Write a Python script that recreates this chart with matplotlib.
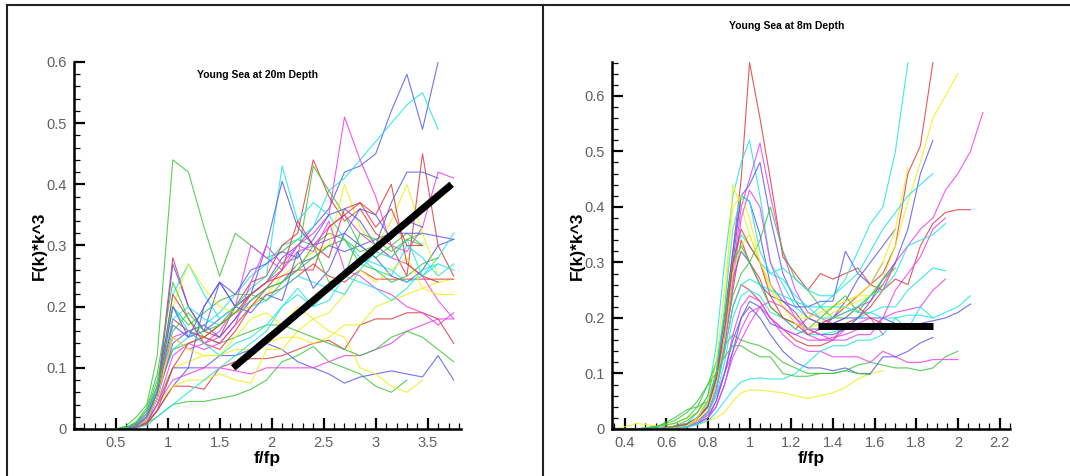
import matplotlib
matplotlib.use("Agg")
import matplotlib.pyplot as plt
from matplotlib.lines import Line2D
from matplotlib.ticker import MultipleLocator

plt.rcParams['font.family'] = ['Liberation Sans', 'DejaVu Sans']

# Tecplot-like colours
colors = {'r': '#e03c3c', 'g': '#3cc83c', 'b': '#5a5af0',
          'c': '#1ee6e6', 'y': '#f0f014', 'm': '#f03cf0'}

# ---------------- left panel: 20 m depth ----------------
x_left = [0.5, 0.6, 0.7, 0.8, 0.9, 1.05, 1.2, 1.35, 1.5, 1.65, 1.8, 1.95,
          2.1, 2.25, 2.4, 2.55, 2.7, 2.85, 3.0, 3.15, 3.3, 3.45, 3.6, 3.75]

left_colors = ['g', 'b', 'c', 'm', 'r', 'g', 'c', 'b', 'g', 'b', 'm', 'r', 'y', 'y', 'g',
               'r', 'm', 'b', 'c', 'y', 'r', 'b', 'g', 'm', 'c', 'y', 'r', 'c', 'b', 'g']
left_values = [
    [0, 0.005, 0.02, 0.04, 0.12, 0.44, 0.42, 0.33, 0.25, 0.32, 0.3, 0.28, 0.29, 0.31, 0.3, 0.32, 0.31, 0.29, 0.3, 0.28, 0.31, 0.3],
    [0, 0.002, 0.008, 0.025, 0.07, 0.17, 0.15, 0.16, 0.18, 0.2, 0.22, 0.24, 0.28, 0.3, 0.33, 0.36, 0.42, 0.43, 0.45, 0.52, 0.58, 0.49, 0.6],
    [0, 0.001, 0.005, 0.02, 0.06, 0.13, 0.15, 0.17, 0.19, 0.22, 0.25, 0.27, 0.3, 0.31, 0.33, 0.39, 0.41, 0.44, 0.47, 0.5, 0.53, 0.55, 0.49],
    [0, 0.002, 0.006, 0.02, 0.07, 0.15, 0.13, 0.14, 0.16, 0.2, 0.3, 0.28, 0.26, 0.3, 0.32, 0.35, 0.51, 0.44, 0.38, 0.3, 0.29, 0.33, 0.42, 0.41],
    [0, 0.001, 0.004, 0.015, 0.06, 0.28, 0.2, 0.16, 0.15, 0.2, 0.24, 0.25, 0.3, 0.32, 0.44, 0.38, 0.34, 0.36, 0.32, 0.3, 0.25, 0.45, 0.3, 0.25],
    [0, 0.002, 0.01, 0.03, 0.08, 0.2, 0.17, 0.19, 0.21, 0.22, 0.22, 0.24, 0.27, 0.28, 0.43, 0.39, 0.35, 0.3, 0.28, 0.3, 0.32, 0.3],
    [0, 0.001, 0.006, 0.02, 0.06, 0.22, 0.27, 0.22, 0.18, 0.2, 0.23, 0.25, 0.43, 0.34, 0.37, 0.35, 0.31, 0.28, 0.26, 0.25, 0.3, 0.28, 0.25, 0.27],
    [0, 0.001, 0.004, 0.015, 0.05, 0.27, 0.2, 0.16, 0.24, 0.2, 0.22, 0.3, 0.405, 0.33, 0.3, 0.31, 0.32, 0.3, 0.28, 0.25, 0.24, 0.26, 0.3, 0.31],
    [0, 0, 0.002, 0.01, 0.02, 0.04, 0.045, 0.045, 0.05, 0.055, 0.065, 0.08, 0.11, 0.12, 0.135, 0.11, 0.1, 0.09, 0.07, 0.06, 0.08],
    [0, 0, 0.003, 0.01, 0.03, 0.07, 0.1, 0.1, 0.12, 0.12, 0.13, 0.14, 0.13, 0.11, 0.1, 0.09, 0.075, 0.085, 0.09, 0.095, 0.09, 0.085, 0.12, 0.08],
    [0, 0.001, 0.004, 0.012, 0.04, 0.08, 0.09, 0.1, 0.1, 0.095, 0.09, 0.1, 0.1, 0.1, 0.1, 0.11, 0.12, 0.12, 0.13, 0.14, 0.16, 0.17, 0.18, 0.18],
    [0, 0, 0.002, 0.008, 0.03, 0.07, 0.07, 0.065, 0.1, 0.11, 0.115, 0.115, 0.12, 0.13, 0.14, 0.145, 0.13, 0.17, 0.18, 0.18, 0.19, 0.19, 0.18, 0.14],
    [0, 0, 0.002, 0.01, 0.04, 0.07, 0.08, 0.08, 0.09, 0.08, 0.075, 0.13, 0.13, 0.16, 0.18, 0.16, 0.15, 0.1, 0.09, 0.07, 0.06, 0.08],
    [0, 0.001, 0.005, 0.015, 0.05, 0.1, 0.11, 0.12, 0.12, 0.13, 0.13, 0.14, 0.15, 0.15, 0.14, 0.15, 0.17, 0.17, 0.2, 0.21, 0.22, 0.23, 0.24, 0.245],
    [0, 0.001, 0.006, 0.02, 0.06, 0.13, 0.14, 0.15, 0.14, 0.15, 0.16, 0.17, 0.17, 0.16, 0.15, 0.14, 0.13, 0.12, 0.13, 0.15, 0.16, 0.15, 0.13, 0.11],
    [0, 0.001, 0.004, 0.015, 0.05, 0.18, 0.16, 0.15, 0.14, 0.17, 0.2, 0.22, 0.23, 0.25, 0.27, 0.25, 0.24, 0.26, 0.245, 0.245, 0.245, 0.245, 0.245, 0.245],
    [0, 0.001, 0.005, 0.015, 0.05, 0.15, 0.16, 0.14, 0.15, 0.18, 0.22, 0.24, 0.26, 0.29, 0.3, 0.33, 0.35, 0.32, 0.3, 0.28, 0.27, 0.25, 0.21, 0.18],
    [0, 0.001, 0.004, 0.015, 0.05, 0.14, 0.16, 0.17, 0.15, 0.18, 0.21, 0.23, 0.24, 0.27, 0.28, 0.3, 0.29, 0.3, 0.31, 0.32, 0.32, 0.32, 0.315, 0.31],
    [0, 0.001, 0.005, 0.02, 0.07, 0.18, 0.2, 0.18, 0.17, 0.19, 0.2, 0.21, 0.23, 0.25, 0.24, 0.23, 0.26, 0.28, 0.27, 0.26, 0.24, 0.25, 0.28, 0.32],
    [0, 0.001, 0.005, 0.02, 0.06, 0.2, 0.27, 0.23, 0.2, 0.19, 0.2, 0.22, 0.25, 0.27, 0.29, 0.3, 0.4, 0.33, 0.3, 0.34, 0.4, 0.32, 0.25],
    [0, 0.001, 0.005, 0.02, 0.06, 0.22, 0.18, 0.14, 0.13, 0.16, 0.2, 0.23, 0.26, 0.34, 0.3, 0.28, 0.36, 0.37, 0.33, 0.36, 0.3, 0.3],
    [0, 0, 0.003, 0.01, 0.04, 0.1, 0.1, 0.2, 0.24, 0.22, 0.26, 0.27, 0.29, 0.28, 0.31, 0.35, 0.36, 0.34, 0.3, 0.37, 0.42, 0.42, 0.41],
    [0, 0.002, 0.012, 0.035, 0.09, 0.24, 0.18, 0.15, 0.17, 0.2, 0.22, 0.21, 0.24, 0.26, 0.28, 0.3, 0.31, 0.27, 0.26, 0.24, 0.25, 0.27, 0.28],
    [0, 0.001, 0.004, 0.015, 0.04, 0.12, 0.14, 0.13, 0.14, 0.17, 0.24, 0.3, 0.27, 0.3, 0.29, 0.34, 0.26, 0.25, 0.23, 0.22, 0.2, 0.19, 0.17, 0.19],
    [0, 0, 0.002, 0.006, 0.02, 0.04, 0.06, 0.08, 0.1, 0.12, 0.14, 0.16, 0.2, 0.23, 0.2, 0.21, 0.25, 0.24, 0.23, 0.21, 0.23, 0.26, 0.27, 0.26],
    [0, 0.001, 0.004, 0.015, 0.05, 0.15, 0.13, 0.12, 0.12, 0.15, 0.18, 0.19, 0.17, 0.2, 0.18, 0.19, 0.22, 0.26, 0.24, 0.26, 0.28, 0.23, 0.22, 0.22],
    [0, 0, 0.003, 0.01, 0.03, 0.1, 0.14, 0.15, 0.17, 0.19, 0.22, 0.24, 0.25, 0.26, 0.26, 0.33, 0.35, 0.37, 0.35, 0.4, 0.27, 0.25, 0.24],
    [0, 0.001, 0.005, 0.02, 0.06, 0.2, 0.16, 0.14, 0.12, 0.14, 0.15, 0.17, 0.2, 0.22, 0.2, 0.23, 0.22, 0.26, 0.29, 0.28, 0.31, 0.25, 0.27],
    [0, 0.001, 0.005, 0.02, 0.06, 0.2, 0.15, 0.2, 0.24, 0.2, 0.19, 0.22, 0.21, 0.29, 0.23, 0.26, 0.32, 0.36, 0.35, 0.31, 0.34, 0.33],
    [0, 0.002, 0.01, 0.03, 0.07, 0.16, 0.19, 0.16, 0.17, 0.19, 0.21, 0.23, 0.24, 0.26, 0.3, 0.24, 0.25, 0.32, 0.31, 0.29, 0.31, 0.32],
]
trend_left_x = [1.63, 3.73]
trend_left_y = [0.10, 0.40]

# ---------------- right panel: 8 m depth ----------------
x_right = [0.36, 0.46, 0.56, 0.64, 0.70, 0.75, 0.80, 0.84, 0.88, 0.92, 0.96, 1.00, 1.05,
           1.10, 1.16, 1.22, 1.28, 1.34, 1.40, 1.46, 1.52, 1.58, 1.64, 1.70, 1.76, 1.82,
           1.88, 1.94, 2.00, 2.06, 2.12]

right_colors = ['r', 'r', 'c', 'y', 'm', 'r', 'b', 'g', 'y', 'g', 'm', 'b', 'c', 'c',
                'm', 'b', 'c', 'b', 'm', 'b', 'y', 'g', 'c', 'r', 'g', 'y', 'm', 'c']
right_values = [
    [0, 0, 0, 0.005, 0.01, 0.02, 0.04, 0.1, 0.2, 0.32, 0.45, 0.66, 0.56, 0.45, 0.31, 0.28, 0.25, 0.28, 0.27, 0.28, 0.29, 0.26, 0.25, 0.3],
    [0, 0, 0.003, 0.005, 0.01, 0.02, 0.04, 0.08, 0.15, 0.25, 0.34, 0.3, 0.27, 0.22, 0.2, 0.18, 0.2, 0.19, 0.2, 0.22, 0.24, 0.26, 0.28, 0.33, 0.46, 0.51, 0.66],
    [0, 0, 0.002, 0.004, 0.01, 0.03, 0.06, 0.15, 0.3, 0.42, 0.48, 0.52, 0.42, 0.3, 0.26, 0.22, 0.2, 0.22, 0.24, 0.27, 0.32, 0.37, 0.4, 0.5, 0.66],
    [0, 0.01, 0.005, 0.01, 0.02, 0.03, 0.05, 0.1, 0.2, 0.44, 0.4, 0.35, 0.3, 0.26, 0.22, 0.2, 0.21, 0.2, 0.22, 0.23, 0.24, 0.24, 0.27, 0.33, 0.41, 0.48, 0.56, 0.6, 0.64],
    [0, 0, 0, 0.003, 0.008, 0.02, 0.04, 0.09, 0.16, 0.28, 0.4, 0.45, 0.515, 0.42, 0.32, 0.25, 0.21, 0.2, 0.19, 0.2, 0.22, 0.23, 0.26, 0.3, 0.33, 0.36, 0.38, 0.43, 0.46, 0.5, 0.57],
    [0, 0, 0, 0.002, 0.005, 0.01, 0.03, 0.07, 0.14, 0.22, 0.26, 0.25, 0.23, 0.2, 0.18, 0.16, 0.15, 0.15, 0.16, 0.19, 0.2, 0.22, 0.25, 0.27, 0.26, 0.33, 0.37, 0.39, 0.395, 0.395],
    [0, 0, 0, 0.003, 0.006, 0.015, 0.03, 0.07, 0.16, 0.3, 0.42, 0.44, 0.48, 0.38, 0.28, 0.23, 0.2, 0.19, 0.2, 0.23, 0.27, 0.3, 0.33, 0.36],
    [0, 0, 0.005, 0.02, 0.035, 0.04, 0.05, 0.09, 0.16, 0.24, 0.28, 0.3, 0.34, 0.4, 0.32, 0.27, 0.25, 0.22, 0.2, 0.2, 0.22, 0.24, 0.26],
    [0, 0, 0, 0.002, 0.004, 0.008, 0.015, 0.02, 0.03, 0.05, 0.065, 0.07, 0.07, 0.068, 0.065, 0.06, 0.055, 0.06, 0.065, 0.075, 0.09, 0.1, 0.105],
    [0, 0, 0.005, 0.01, 0.02, 0.04, 0.08, 0.12, 0.15, 0.17, 0.16, 0.155, 0.15, 0.14, 0.12, 0.11, 0.1, 0.1, 0.1, 0.105, 0.115, 0.12, 0.115, 0.11, 0.11, 0.105, 0.11, 0.13, 0.14],
    [0, 0, 0, 0.002, 0.006, 0.015, 0.03, 0.06, 0.1, 0.14, 0.18, 0.21, 0.22, 0.2, 0.17, 0.15, 0.14, 0.14, 0.13, 0.13, 0.13, 0.12, 0.14, 0.13, 0.12, 0.12, 0.125, 0.125, 0.125],
    [0, 0, 0, 0.002, 0.005, 0.01, 0.02, 0.04, 0.08, 0.14, 0.2, 0.23, 0.22, 0.19, 0.18, 0.17, 0.18, 0.18, 0.19, 0.2, 0.2, 0.2, 0.2, 0.19, 0.19, 0.19, 0.195, 0.2, 0.21, 0.225],
    [0, 0, 0, 0.003, 0.008, 0.02, 0.05, 0.1, 0.2, 0.3, 0.35, 0.33, 0.3, 0.28, 0.27, 0.24, 0.22, 0.22, 0.22, 0.22, 0.21, 0.21, 0.2, 0.2, 0.205, 0.205, 0.2, 0.21, 0.22, 0.24],
    [0, 0, 0, 0.002, 0.006, 0.015, 0.03, 0.06, 0.12, 0.2, 0.24, 0.25, 0.24, 0.21, 0.2, 0.18, 0.17, 0.17, 0.175, 0.18, 0.2, 0.21, 0.22, 0.22, 0.25, 0.27, 0.29, 0.285],
    [0, 0, 0, 0.002, 0.005, 0.012, 0.025, 0.05, 0.1, 0.17, 0.22, 0.24, 0.23, 0.2, 0.18, 0.17, 0.16, 0.16, 0.165, 0.17, 0.18, 0.18, 0.2, 0.21, 0.215, 0.22, 0.25, 0.27],
    [0, 0, 0, 0.002, 0.004, 0.01, 0.02, 0.05, 0.1, 0.16, 0.2, 0.22, 0.2, 0.17, 0.14, 0.12, 0.11, 0.11, 0.105, 0.11, 0.1, 0.1, 0.13, 0.13, 0.14, 0.155, 0.165],
    [0, 0, 0, 0.001, 0.003, 0.008, 0.015, 0.03, 0.05, 0.07, 0.085, 0.09, 0.092, 0.09, 0.09, 0.1, 0.12, 0.14, 0.15, 0.15, 0.16, 0.16, 0.17, 0.2, 0.18, 0.22, 0.2],
    [0, 0, 0, 0.003, 0.008, 0.02, 0.04, 0.09, 0.18, 0.27, 0.32, 0.3, 0.26, 0.24, 0.23, 0.22, 0.22, 0.23, 0.23, 0.32, 0.28, 0.26, 0.3],
    [0, 0, 0, 0.002, 0.005, 0.015, 0.03, 0.07, 0.15, 0.26, 0.38, 0.43, 0.4, 0.3, 0.24, 0.2, 0.17, 0.16, 0.16, 0.18, 0.19, 0.2, 0.17],
    [0, 0, 0, 0.004, 0.008, 0.02, 0.05, 0.1, 0.2, 0.32, 0.42, 0.41, 0.35, 0.26, 0.23, 0.21, 0.18, 0.17, 0.17, 0.18, 0.2, 0.23, 0.27, 0.3, 0.36, 0.46, 0.52],
    [0, 0, 0, 0.002, 0.006, 0.015, 0.035, 0.08, 0.16, 0.28, 0.33, 0.35, 0.3, 0.25, 0.22, 0.2, 0.2, 0.21, 0.22, 0.23, 0.24, 0.26, 0.3, 0.36, 0.47],
    [0, 0, 0, 0.005, 0.015, 0.03, 0.06, 0.12, 0.2, 0.3, 0.33, 0.3, 0.26, 0.22, 0.2, 0.19, 0.18, 0.2, 0.22, 0.24, 0.21, 0.24, 0.27, 0.29],
    [0, 0, 0, 0.003, 0.007, 0.02, 0.045, 0.1, 0.22, 0.36, 0.42, 0.41, 0.32, 0.28, 0.29, 0.27, 0.25, 0.24, 0.24, 0.26, 0.28, 0.32, 0.36, 0.39, 0.42, 0.44, 0.46],
    [0, 0, 0, 0.003, 0.008, 0.02, 0.04, 0.09, 0.18, 0.3, 0.36, 0.33, 0.3, 0.24, 0.2, 0.19, 0.17, 0.18, 0.2, 0.21, 0.22, 0.2, 0.19],
    [0, 0, 0.005, 0.015, 0.03, 0.05, 0.08, 0.1, 0.13, 0.15, 0.15, 0.14, 0.13, 0.13, 0.1, 0.095, 0.095, 0.1, 0.1, 0.105, 0.1, 0.098],
    [0, 0, 0, 0.002, 0.006, 0.02, 0.05, 0.12, 0.25, 0.4, 0.42, 0.38, 0.3, 0.26, 0.22, 0.19, 0.18, 0.19, 0.21, 0.22, 0.23, 0.24, 0.25],
    [0, 0, 0, 0.001, 0.004, 0.01, 0.02, 0.04, 0.08, 0.13, 0.16, 0.19, 0.22, 0.23, 0.22, 0.2, 0.18, 0.17, 0.16, 0.16, 0.17, 0.17, 0.2, 0.25, 0.28, 0.31, 0.36, 0.38],
    [0, 0, 0, 0.001, 0.004, 0.01, 0.03, 0.07, 0.14, 0.22, 0.26, 0.27, 0.26, 0.25, 0.24, 0.23, 0.22, 0.2, 0.2, 0.21, 0.22, 0.24, 0.25, 0.28, 0.33, 0.34, 0.35, 0.37],
]
level_right_x = [1.33, 1.88]
level_right_y = [0.185, 0.185]

W, H = 1070, 476
fig = plt.figure(figsize=(W / 100, H / 100), dpi=100)


def style_axes(ax, xlim, ylim, xmaj, xmin, ymaj, ymin):
    ax.set_xlim(*xlim)
    ax.set_ylim(*ylim)
    for s in ['top', 'right']:
        ax.spines[s].set_visible(False)
    for s in ['left', 'bottom']:
        ax.spines[s].set_linewidth(1.8)
    ax.xaxis.set_major_locator(MultipleLocator(xmaj))
    ax.xaxis.set_minor_locator(MultipleLocator(xmin))
    ax.yaxis.set_major_locator(MultipleLocator(ymaj))
    ax.yaxis.set_minor_locator(MultipleLocator(ymin))
    ax.tick_params(which='major', direction='in', length=8, width=1.6,
                   labelsize=10.5, labelcolor='#606060', pad=5)
    ax.tick_params(which='minor', direction='in', length=4, width=0.9)
    ax.xaxis.set_major_formatter(plt.FuncFormatter(lambda v, p: f'{v:g}'))
    ax.yaxis.set_major_formatter(plt.FuncFormatter(lambda v, p: f'{v:g}'))
    ax.set_xlabel('f/fp', fontsize=12.5, fontweight='bold', labelpad=1)
    ax.set_ylabel('F(k)*k^3', fontsize=12.5, fontweight='bold', labelpad=0)


# left axes
ax1 = fig.add_axes([74 / W, 1 - 429 / H, (461 - 74) / W, (429 - 62) / H])
for c, vals in zip(left_colors, left_values):
    ax1.plot(x_left[:len(vals)], vals, color=colors[c], lw=0.8, alpha=0.85, clip_on=True)
ax1.plot(trend_left_x, trend_left_y, color='black', lw=5, solid_capstyle='butt')
style_axes(ax1, (0.1, 3.82), (0, 0.6), 0.5, 0.1, 0.1, 0.02)
ax1.set_xticks([0.5, 1, 1.5, 2, 2.5, 3, 3.5])
ax1.text(0.475, 0.965, 'Young Sea at 20m Depth', transform=ax1.transAxes,
         ha='center', va='center', fontsize=7.5, fontweight='bold')

# right axes
ax2 = fig.add_axes([612 / W, 1 - 429 / H, (1010 - 612) / W, (429 - 62) / H])
for c, vals in zip(right_colors, right_values):
    ax2.plot(x_right[:len(vals)], vals, color=colors[c], lw=0.8, alpha=0.85, clip_on=True)
ax2.plot(level_right_x, level_right_y, color='black', lw=5, solid_capstyle='butt')
style_axes(ax2, (0.34, 2.25), (0, 0.661), 0.2, 0.05, 0.1, 0.02)
fig.text(787 / W, 1 - 26 / H, 'Young Sea at 8m Depth', ha='center', va='center',
         fontsize=7.5, fontweight='bold')

# panel frames
frame = dict(color='#222222', lw=1.5)
fig.add_artist(Line2D([7 / W, 7 / W], [0, 1 - 5 / H], transform=fig.transFigure, **frame))
fig.add_artist(Line2D([7 / W, 1], [1 - 5 / H, 1 - 5 / H], transform=fig.transFigure, **frame))
fig.add_artist(Line2D([543 / W, 543 / W], [0, 1 - 5 / H], transform=fig.transFigure, **frame))

fig.savefig('out.png', dpi=100)
